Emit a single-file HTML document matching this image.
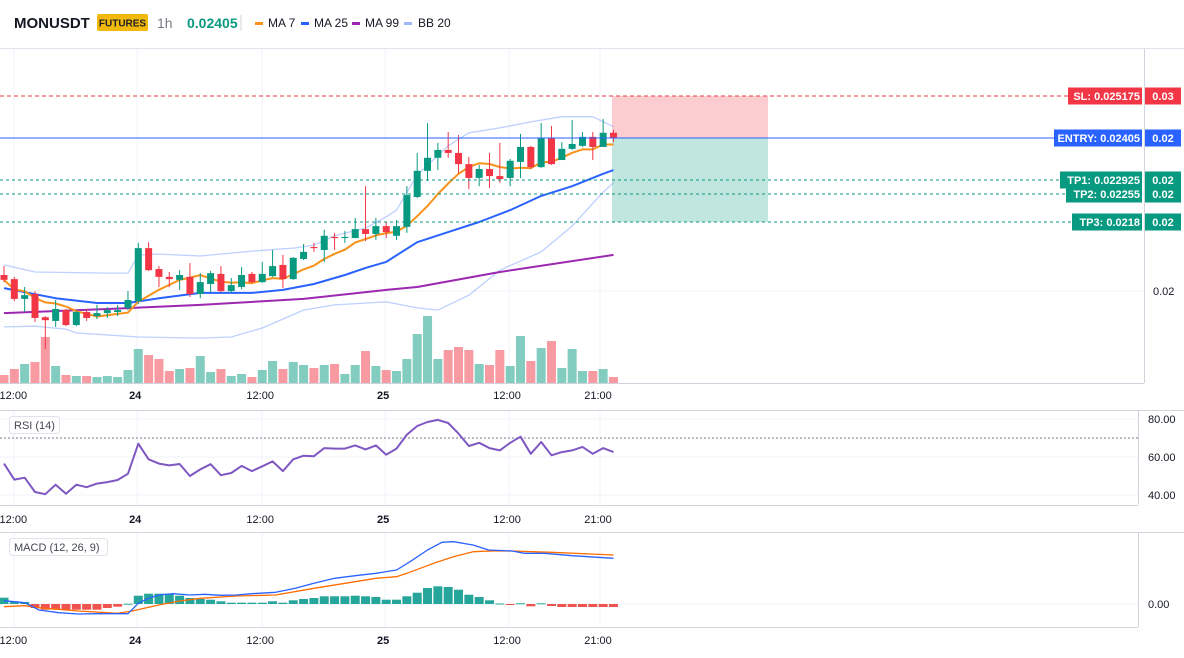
<!DOCTYPE html>
<html><head><meta charset="utf-8">
<style>
body{margin:0;background:#fff;width:1184px;height:653px;overflow:hidden;font-family:"Liberation Sans",sans-serif;}
svg text{font-family:"Liberation Sans",sans-serif;}
</style></head>
<body>
<svg id="c" width="1184" height="653" xmlns="http://www.w3.org/2000/svg">
  <g>
    <text x="14" y="28" font-size="15" font-weight="bold" fill="#131722">MONUSDT</text>
    <rect x="97" y="14" width="51" height="17" rx="2" fill="#f0b90b"/>
    <text x="122.5" y="26.5" font-size="10" font-weight="bold" fill="#1e2026" text-anchor="middle">FUTURES</text>
    <text x="157" y="28" font-size="14" fill="#787b86">1h</text>
    <text x="187" y="28" font-size="14" font-weight="bold" fill="#089981" font-family="Liberation Mono">0.02405</text>
    <line x1="241" y1="15" x2="241" y2="31" stroke="#d1d4dc"/>
    <g><rect x="255" y="22" width="8" height="3" fill="#f7931a"/><text x="268" y="27" font-size="12" fill="#131722">MA 7</text></g>
    <g><rect x="301" y="22" width="8" height="3" fill="#2962ff"/><text x="314" y="27" font-size="12" fill="#131722">MA 25</text></g>
    <g><rect x="352" y="22" width="8" height="3" fill="#9c27b0"/><text x="365" y="27" font-size="12" fill="#131722">MA 99</text></g>
    <g><rect x="404" y="22" width="8" height="3" fill="#a0b4f8"/><text x="418" y="27" font-size="12" fill="#131722">BB 20</text></g>
    <line x1="0" y1="48.5" x2="1184" y2="48.5" stroke="#e0e3eb"/>
  </g>
  <g id="grid"></g>
  <g id="main"></g>
  <g id="rsi"></g>
  <g id="macd"></g>
  <g id="axes"></g>
</svg>
<script>
// ---- price data (candles) ----
const opens  = [0.02038,0.02027,0.01974,0.01987,0.01925,0.01915,0.01944,0.01904,0.01939,0.01928,0.01936,0.01939,0.01950,0.01968,0.02110,0.02054,0.02033,0.02025,0.02033,0.01987,0.02014,0.02041,0.01995,0.02006,0.02041,0.02019,0.02035,0.02065,0.02027,0.02081,0.02113,0.02105,0.02140,0.02137,0.02137,0.02161,0.02148,0.02169,0.02143,0.02167,0.02247,0.02317,0.02352,0.02373,0.02365,0.02335,0.02298,0.02322,0.02303,0.02298,0.02341,0.02381,0.02327,0.02405,0.02346,0.02376,0.02384,0.02408,0.02381,0.02419];
const closes = [0.02025,0.01974,0.01984,0.01923,0.01917,0.01947,0.01904,0.01939,0.01923,0.01936,0.01944,0.01944,0.01971,0.02110,0.02051,0.02033,0.02027,0.02038,0.01987,0.02019,0.02043,0.01995,0.02011,0.02038,0.02019,0.02041,0.02062,0.02027,0.02084,0.02100,0.02110,0.02143,0.02137,0.02140,0.02161,0.02148,0.02169,0.02153,0.02169,0.02252,0.02317,0.02352,0.02373,0.02365,0.02335,0.02298,0.02322,0.02303,0.02295,0.02344,0.02381,0.02327,0.02405,0.02335,0.02376,0.02389,0.02408,0.02381,0.02419,0.02405];
const highs  = [0.02062,0.02033,0.02006,0.01995,0.01928,0.01971,0.01947,0.01942,0.01947,0.01958,0.01952,0.01958,0.01995,0.02124,0.02126,0.02062,0.02046,0.02051,0.02070,0.02043,0.02049,0.02062,0.02030,0.02059,0.02046,0.02073,0.02105,0.02092,0.02086,0.02121,0.02124,0.02159,0.02151,0.02156,0.02191,0.02276,0.02191,0.02180,0.02185,0.02276,0.02365,0.02445,0.02392,0.02421,0.02413,0.02354,0.02333,0.02365,0.02392,0.02349,0.02416,0.02384,0.02445,0.02437,0.02394,0.02453,0.02421,0.02421,0.02456,0.02427];
const lows   = [0.02019,0.01968,0.01939,0.01912,0.01840,0.01899,0.01901,0.01901,0.01915,0.01920,0.01923,0.01928,0.01944,0.01960,0.02049,0.02006,0.02006,0.01998,0.01979,0.01976,0.01992,0.01992,0.01990,0.02000,0.02017,0.02017,0.02033,0.02003,0.02025,0.02078,0.02100,0.02073,0.02105,0.02124,0.02137,0.02129,0.02132,0.02137,0.02132,0.02151,0.02244,0.02290,0.02319,0.02352,0.02311,0.02268,0.02276,0.02271,0.02285,0.02276,0.02298,0.02322,0.02325,0.02333,0.02346,0.02373,0.02381,0.02346,0.02381,0.02394];
const volumes = [8,14,19,21,46,17,8,7,7,6,7,6,13,34,28,24,12,14,15,27,11,14,7,9,6,13,22,14,21,18,15,18,19,9,18,32,17,13,12,24,49,67,24,33,36,33,19,18,33,17,47,22,35,42,15,34,12,12,14,6];
// ---- moving averages / bands (sampled: candle index, price) ----
const ma25Idx = [0,5,9,12,15,19,24,27,30,33,35,37,40,43,46,49,52,55,58,59];
const ma25Val = [0.02003,0.01976,0.01963,0.01963,0.01976,0.01990,0.01990,0.01998,0.02014,0.02038,0.02057,0.02073,0.02126,0.02153,0.02180,0.02212,0.02250,0.02276,0.02309,0.02319];
const ma99Idx = [0,10,19,29,37,40,48,59];
const ma99Val = [0.01936,0.01947,0.01958,0.01974,0.01998,0.02006,0.02046,0.02092];
const bbUpIdx = [0,3,10,12,13,15,19,24,28,30,32,35,37,38,40,43,45,48,51,54,57,59];
const bbUpVal = [0.02065,0.02046,0.02043,0.02043,0.02092,0.02094,0.02089,0.02102,0.02110,0.02118,0.02143,0.02164,0.02194,0.02212,0.02306,0.02384,0.02419,0.02432,0.02448,0.02462,0.02462,0.02435];
const bbLoIdx = [0,3,6,7,13,19,22,25,29,32,37,40,42,45,48,52,55,58,59];
const bbLoVal = [0.01899,0.01901,0.01893,0.01883,0.01872,0.01869,0.01872,0.01896,0.01944,0.01958,0.01966,0.01950,0.01944,0.01984,0.02051,0.02100,0.02169,0.02260,0.02285];
// ---- RSI ----
const rsiVals = [56.5,48.1,49.1,41.6,40.4,45.4,40.7,45.4,44.1,46,46.8,47.9,51.2,67,58.8,56.5,55.6,56.3,50,53.5,56.2,50.4,51.6,55.3,52.6,55.1,57.7,52.6,58.8,60.7,60.4,64.7,64.4,64.4,66.1,64,66.1,61.2,64.4,71.8,76.3,78.4,79.5,77.9,72.3,65.8,67.5,64.7,63.5,67.5,70.7,61.7,67.9,60.9,62.6,63.5,65.3,61.7,64.7,62.6];
const rsiTicks = [80,60,40];
// ---- MACD (x1e-5) ----
const histVals = [6.3,2.7,2,-4,-5.7,-5.7,-5.7,-5.7,-5.7,-5.7,-4,-2.7,0.3,8.3,10.3,10.3,10.3,8.3,6,5,4.3,2.7,1.3,1.3,1.3,1.3,2.7,1.3,3.7,5,6,7.7,7.7,7.7,8.3,7.7,7,4.3,4.3,7.7,11.3,16,17.7,17,14.3,9.3,7,3.7,0.5,-0.7,0.7,-2.3,0.7,-2,-3,-3,-3,-3,-3,-3];
const macdIdx = [0,2,3.4,5.3,7.2,9.1,11,12,13,14,15,16.4,18,19.4,21,22.5,24,26.3,28.2,30,32,34,36,38,39.3,41,42.4,43.5,45.4,46.9,49.2,50.4,52.3,55,59];
const macdVal = [3.3,1.3,-6,-8.7,-10,-9.7,-9.7,-9.7,0.7,5.7,9,10.3,9,9.7,8.7,9,10.3,11.7,15.7,20.7,25.7,28.3,30.7,34,42.3,54,61.7,62.3,59,54,53,50.7,50.7,48.3,45.7];
const sigIdx = [0,2,3.4,7.2,11,12.4,15,17,19,22.5,26.3,30,34,36,38,39,41.6,43.5,45.4,47.3,49.2,53,59];
const sigVal = [-2.7,-1.7,-3.7,-7,-9.3,-7,-1,3,5.7,8,9,15.7,22.3,25.7,27.3,30.7,40.7,47.3,52.3,53,53,51.7,49];
const timeLabels = ["12:00","24","12:00","25","12:00","21:00"];
const timeIdx = [0.9,12.7,24.8,36.7,48.7,57.5];

const NS="http://www.w3.org/2000/svg";
function el(tag, attrs, parent){const e=document.createElementNS(NS,tag);for(const k in attrs)e.setAttribute(k,attrs[k]);parent.appendChild(e);return e;}
const xOf = i => 4 + i*10.33;
const yP = p => 138 - (p-0.02405)*37333;
const yR = v => 419 + (80-v)*1.9;
const yM = v => 604 - v;
const G='#089981', R='#f23645';
const grid=document.getElementById('grid'), main=document.getElementById('main'), rsiG=document.getElementById('rsi'), macdG=document.getElementById('macd'), axes=document.getElementById('axes');

const gx=[14,137,262,385,509,600];
for(const x of gx){
  for(const [a,b] of [[49,383],[410,505],[532,627]]){
    const l=el('line',{x1:x,y1:a,x2:x,y2:b,stroke:'#f0f3fa'},grid);
    
    
  }
}
for(const y of [291]){const l=el('line',{x1:0,y1:y,x2:1144,y2:y,stroke:'#f0f3fa'},grid);}
for(const v of rsiTicks){const l=el('line',{x1:0,y1:yR(v),x2:1138,y2:yR(v),stroke:'#f0f3fa'},grid);}
{const l=el('line',{x1:0,y1:604,x2:1138,y2:604,stroke:'#f0f3fa'},grid);}
const borders=[[0,383.5,1144,383.5],[1144.5,49,1144.5,383],[0,410.5,1184,410.5],[1138.5,410,1138.5,505],[0,505.5,1138,505.5],[0,532.5,1184,532.5],[1138.5,532,1138.5,627],[0,627.5,1138,627.5]];
for(const b of borders){const l=el('line',{x1:b[0],y1:b[1],x2:b[2],y2:b[3],stroke:'#d1d4dc'},grid);}

{const r=el('rect',{x:612,y:yP(0.025175),width:156,height:yP(0.02405)-yP(0.025175),fill:'rgba(242,54,69,0.25)'},main);}
{const r=el('rect',{x:612,y:yP(0.02405),width:156,height:yP(0.0218)-yP(0.02405),fill:'rgba(8,153,129,0.25)'},main);}

const vBase=383;
volumes.forEach((v,i)=>{
  const up=closes[i]>=opens[i];
  const r=el('rect',{x:xOf(i)-4.5,y:vBase-v,width:9,height:v,fill:up?'rgba(8,153,129,0.5)':'rgba(242,54,69,0.5)'},main);
  
  
});

function poly(idx,vals,yf,color,w,name,parent){
  const pts=idx.map((i,k)=>xOf(i).toFixed(1)+','+yf(vals[k]).toFixed(1)).join(' ');
  const p=el('polyline',{points:pts,fill:'none',stroke:color,'stroke-width':w,'stroke-linejoin':'round'},parent);
  
  
  return p;
}
const allIdx=closes.map((_,i)=>i);
poly(bbUpIdx,bbUpVal,yP,'rgba(41,98,255,0.3)',1.3,'bb-upper-band',main);
poly(bbLoIdx,bbLoVal,yP,'rgba(41,98,255,0.3)',1.3,'bb-lower-band',main);
poly(ma99Idx,ma99Val,yP,'#9c27b0',2,'ma99-line',main);
poly(ma25Idx,ma25Val,yP,'#2962ff',2,'ma25-line',main);
const ma7=closes.map((c,i)=>{const s=closes.slice(Math.max(0,i-6),i+1);return s.reduce((a,b)=>a+b,0)/s.length;});
poly(allIdx,ma7,yP,'#f7931a',2,'ma7-line',main);

closes.forEach((c,i)=>{
  const o=opens[i],up=c>=o,col=up?G:R,x=xOf(i);
  const w=el('line',{x1:x,y1:yP(highs[i]),x2:x,y2:yP(lows[i]),stroke:col,'stroke-width':1},main);
  
  
  const t=Math.min(yP(o),yP(c)),h=Math.max(1,Math.abs(yP(o)-yP(c)));
  const b=el('rect',{x:x-3.5,y:t,width:7,height:h,fill:col},main);
  
  
});

const plines=[["SL: 0.025175",0.025175,'#f23645','0.03',1068,'4,3'],["ENTRY: 0.02405",0.02405,'#2962ff','0.02',1054,''],["TP1: 0.022925",0.022925,'#089981','0.02',1060,'3,3'],["TP2: 0.02255",0.02255,'#089981','0.02',1066,'3,3'],["TP3: 0.0218",0.0218,'#089981','0.02',1072,'3,3']];
plines.forEach(p=>{
  const y=yP(p[1]);
  const l=el('line',{x1:0,y1:y,x2:p[4],y2:y,stroke:p[2],'stroke-width':1,'stroke-dasharray':p[5]},main);
  
  
  const bh=17;
  const r=el('rect',{x:p[4],y:y-bh/2,width:1142-p[4],height:bh,fill:p[2]},axes);
  
  
  const t=el('text',{x:1140,y:y+4,'font-size':11,'font-weight':'bold',fill:'#fff','text-anchor':'end'},axes);t.textContent=p[0];
  
  
  const r2=el('rect',{x:1145,y:y-bh/2,width:36,height:bh,fill:p[2]},axes);
  
  
  const t2=el('text',{x:1163,y:y+4,'font-size':11,'font-weight':'bold',fill:'#fff','text-anchor':'middle'},axes);t2.textContent=p[3];
  
  
});
{const t=el('text',{x:1153,y:295,'font-size':11,fill:'#131722'},axes);t.textContent='0.02';}

for(const ty of [399,523,644]){
  timeLabels.forEach((lab,k)=>{
    const t=el('text',{x:xOf(timeIdx[k]),y:ty,'font-size':11,fill:'#131722','text-anchor':'middle','font-weight':(lab.length<3?'bold':'normal')},axes);
    t.textContent=lab;
    
    
  });
}

{const l=el('line',{x1:0,y1:yR(70),x2:1138,y2:yR(70),stroke:'#787b86','stroke-dasharray':'2,2'},rsiG);}
poly(allIdx,rsiVals,yR,'#7e57c2',2,'rsi-line',rsiG);
rsiTicks.forEach(v=>{const t=el('text',{x:1148,y:yR(v)+4,'font-size':11,fill:'#131722'},axes);t.textContent=v.toFixed(2);});
{const r=el('rect',{x:9.5,y:416.5,width:50,height:17,rx:3,fill:'#fff',stroke:'#e0e3eb'},rsiG);
 const t=el('text',{x:14,y:429,'font-size':11,fill:'#434651'},rsiG);t.textContent='RSI (14)';}

histVals.forEach((v,i)=>{
  const r=el('rect',{x:xOf(i)-4.5,y:v>=0?yM(v):604,width:9,height:Math.max(1,Math.abs(v)),fill:v>=0?'#26a69a':'#ef5350'},macdG);
  
  
});
poly(sigIdx,sigVal,yM,'#ff6d00',1.3,'macd-signal-line',macdG);
poly(macdIdx,macdVal,yM,'#2962ff',1.3,'macd-line',macdG);
{const t=el('text',{x:1148,y:608,'font-size':11,fill:'#131722'},axes);t.textContent='0.00';}
{const r=el('rect',{x:9.5,y:538.5,width:98,height:17,rx:3,fill:'#fff',stroke:'#e0e3eb'},macdG);
 const t=el('text',{x:14,y:551,'font-size':11,fill:'#434651'},macdG);t.textContent='MACD (12, 26, 9)';}
</script>
</body></html>
